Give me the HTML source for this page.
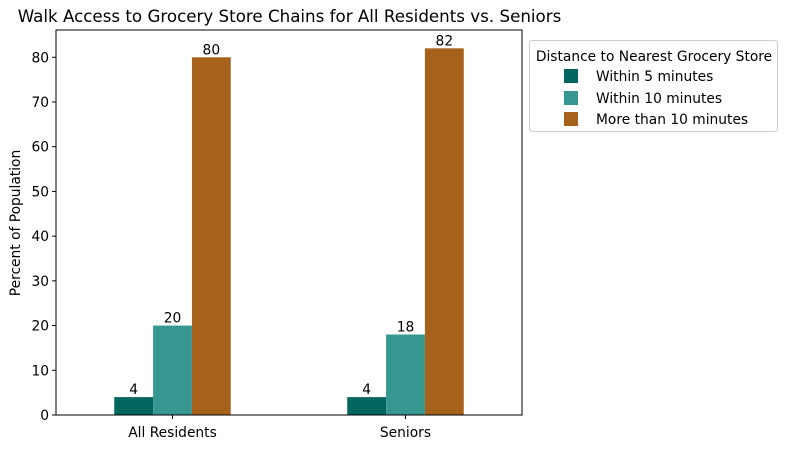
<!DOCTYPE html>
<html><head><meta charset="utf-8"><style>
body{margin:0;background:#fff;font-family:"Liberation Sans","DejaVu Sans",sans-serif;}
svg text{font-family:"DejaVu Sans","Liberation Sans",sans-serif;}
</style></head><body>
<svg id="chart" width="788" height="449" viewBox="0 0 788 449">
<text x="289.5" y="22" font-size="16.7" text-anchor="middle">Walk Access to Grocery Store Chains for All Residents vs. Seniors</text>
<g id="marks"></g>
<rect x="56" y="30" width="466" height="385" fill="none" stroke="#000" stroke-width="1"/>
<text transform="translate(20,223) rotate(-90)" font-size="13.8" text-anchor="middle">Percent of Population</text>
<g>
<rect x="529.5" y="40.5" width="248" height="91" fill="#fff" stroke="#ccc" rx="3"/>
<text x="654" y="61" font-size="13.8" text-anchor="middle">Distance to Nearest Grocery Store</text>
<rect x="564" y="69" width="14" height="14" fill="#01665e"/>
<text x="596" y="81" font-size="13.8">Within 5 minutes</text>
<rect x="564" y="91" width="14" height="14" fill="#35978f"/>
<text x="596" y="103" font-size="13.8">Within 10 minutes</text>
<rect x="564" y="112" width="14" height="14" fill="#a6611a"/>
<text x="596" y="124" font-size="13.8">More than 10 minutes</text>
</g>
</svg>
<script>
const categories=["All Residents","Seniors"];
const within5=[4,4];
const within10=[20,18];
const more10=[80,82];
const yTicks=[0,10,20,30,40,50,60,70,80];
const seriesNames=["within-5","within-10","more-than-10"];
const colors=["#01665e","#35978f","#a6611a"];
const NS="http://www.w3.org/2000/svg";
const L=56,R=522,T=30,B=415,yMax=86.1;
const y=v=>B-v/yMax*(B-T);
const x=i=>L+(i+0.5)/categories.length*(R-L);
const g=document.getElementById('marks');
function mk(tag,attrs){const e=document.createElementNS(NS,tag);for(const k in attrs)e.setAttribute(k,attrs[k]);return e;}
yTicks.forEach(t=>{
 const tk=mk('line',{x1:L-4,x2:L,y1:y(t),y2:y(t),stroke:'#000'});
 
 
 g.appendChild(tk);
 const tx=mk('text',{x:L-7,y:y(t)+5,'font-size':13.8,'text-anchor':'end'});
 tx.textContent=t;
 
 
 g.appendChild(tx);
});
const unit=(R-L)/categories.length;
const bw=unit*0.5/3;
[within5,within10,more10].forEach((s,si)=>{
 s.forEach((v,i)=>{
  const bx=x(i)-1.5*bw+si*bw;
  const r=mk('rect',{x:bx,y:y(v),width:bw,height:B-y(v),fill:colors[si]});
  
  
  g.appendChild(r);
  const lb=mk('text',{x:bx+bw/2,y:y(v)-3,'font-size':13.8,'text-anchor':'middle'});
  lb.textContent=v;
  
  
  g.appendChild(lb);
 });
});
categories.forEach((c,i)=>{
 const tk=mk('line',{x1:x(i),x2:x(i),y1:B,y2:B+4,stroke:'#000'});
 
 
 g.appendChild(tk);
 const tx=mk('text',{x:x(i),y:B+22,'font-size':13.8,'text-anchor':'middle'});
 tx.textContent=c;
 
 
 g.appendChild(tx);
});
</script>
</body></html>
